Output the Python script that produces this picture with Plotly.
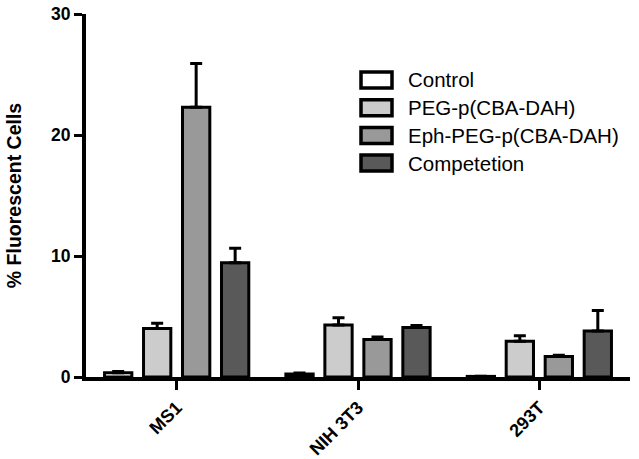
import plotly.graph_objects as go

categories = ["MS1", "NIH 3T3", "293T"]
series_names = ["Control", "PEG-p(CBA-DAH)", "Eph-PEG-p(CBA-DAH)", "Competetion"]
control = [0.35, 0.25, 0.05]
peg = [4.0, 4.3, 2.95]
eph = [22.3, 3.1, 1.7]
comp = [9.45, 4.1, 3.8]
control_err = [0.1, 0.08, 0.02]
peg_err = [0.45, 0.6, 0.45]
eph_err = [3.6, 0.2, 0.1]
comp_err = [1.2, 0.15, 1.7]
y_ticks = [0, 10, 20, 30]

colors = ["#ffffff", "#cccccc", "#999999", "#595959"]
values = [control, peg, eph, comp]
errors = [control_err, peg_err, eph_err, comp_err]

fig = go.Figure()
for name, vals, errs, col in zip(series_names, values, errors, colors):
    fig.add_trace(go.Bar(
        x=categories, y=vals, name=name, showlegend=False,
        marker=dict(color=col, line=dict(color="black", width=3)),
        error_y=dict(type="data", array=errs, arrayminus=[0]*len(errs), symmetric=False,
                     color="black", thickness=3, width=6),
    ))

font_family = "Liberation Sans, Arial, sans-serif"

# Custom legend (boxes + labels) in paper coordinates, matching the reference style
plot_left, plot_w, plot_bottom, plot_h = 86, 544, 377, 363
def px_to_paper_x(px):
    return (px - plot_left) / plot_w
def px_to_paper_y(py):
    return (plot_bottom - py) / plot_h

row0, row_step = 80, 27.7
for i, (name, col) in enumerate(zip(series_names, colors)):
    cy = row0 + i * row_step
    fig.add_shape(type="rect", xref="paper", yref="paper",
                  x0=px_to_paper_x(361), x1=px_to_paper_x(392),
                  y0=px_to_paper_y(cy + 8), y1=px_to_paper_y(cy - 8),
                  fillcolor=col, line=dict(color="black", width=3.5))
    fig.add_annotation(xref="paper", yref="paper", x=px_to_paper_x(406), y=px_to_paper_y(cy),
                       xanchor="left", yanchor="middle", showarrow=False, text=name,
                       font=dict(size=20.5, family=font_family, color="black"))

fig.update_layout(
    width=639, height=459,
    margin=dict(l=86, r=9, t=14, b=82, autoexpand=False),
    paper_bgcolor="white", plot_bgcolor="white",
    barmode="group", bargap=0.14, bargroupgap=0.3,
    font=dict(family=font_family, color="black"),
    showlegend=False,
    xaxis=dict(showline=True, linecolor="black", linewidth=4, ticks="outside",
               ticklen=9, tickwidth=3, tickcolor="black", tickangle=-45,
               tickfont=dict(size=18, family=font_family, color="black", weight="bold"),
               range=[-0.5, 2.5], showgrid=False, zeroline=False, automargin=False),
    yaxis=dict(showline=True, linecolor="black", linewidth=4, ticks="outside",
               ticklen=8, tickwidth=3, tickcolor="black", range=[0, 30],
               tickvals=y_ticks, ticktext=[str(t) for t in y_ticks],
               tickfont=dict(size=17.5, family=font_family, color="black", weight="bold"),
               title=dict(text="% Fluorescent Cells", standoff=25,
                          font=dict(size=19.5, family=font_family, color="black", weight="bold")),
               showgrid=False, zeroline=False, automargin=False),
)
fig.write_html("out.html", config={"displayModeBar": False},
               post_script="document.body.style.margin='0';document.body.style.padding='0';")
